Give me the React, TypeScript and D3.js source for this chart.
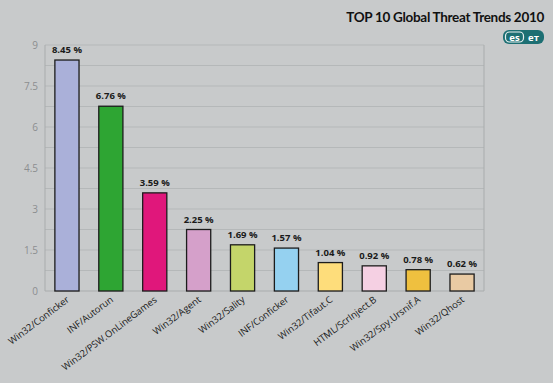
import React from "react";
import * as d3 from "d3";

const categories = [
  "Win32/Conficker",
  "INF/Autorun",
  "Win32/PSW.OnLineGames",
  "Win32/Agent",
  "Win32/Sality",
  "INF/Conficker",
  "Win32/Tifaut.C",
  "HTML/ScrInject.B",
  "Win32/Spy.Ursnif.A",
  "Win32/Qhost",
];
const values = [8.45, 6.76, 3.59, 2.25, 1.69, 1.57, 1.04, 0.92, 0.78, 0.62];
const colors = [
  "#aab0d9",
  "#2ea533",
  "#e0177b",
  "#d5a0ca",
  "#c4d56a",
  "#95d1f0",
  "#fedd7b",
  "#f5d0e3",
  "#efc03f",
  "#e9caa3",
];
const tickValues = [0, 1.5, 3, 4.5, 6, 7.5, 9];
const gridValues = [0.75, 1.5, 2.25, 3, 3.75, 4.5, 5.25, 6, 6.75, 7.5, 8.25, 9];
const title = "TOP 10 Global Threat Trends 2010";

const W = 553;
const H = 383;
const left = 45;
const right = 484;
const top = 45;
const bottom = 291;

export default function App() {
  const x = d3.scaleBand<string>().domain(categories).range([left, right]).paddingInner(0.45).paddingOuter(0.225);
  const y = d3.scaleLinear().domain([0, 9]).range([bottom, top]);
  const font = "'Open Sans', 'DejaVu Sans', sans-serif";

  return (
    <svg
      width={W}
      height={H}
      style={{ position: "absolute", left: 0, top: 0, background: "#c8cacb" }}
      fontFamily={font}
    >
      <rect x={0} y={0} width={W} height={H} fill="#c8cacb" />
      {gridValues.map((v) => (
        <line key={v} x1={left} x2={right} y1={y(v)} y2={y(v)} stroke="#b5b8b9" strokeWidth={1} />
      ))}
      <line x1={left} x2={left} y1={top} y2={bottom} stroke="#a9acad" />
      <line x1={right} x2={right} y1={top} y2={bottom} stroke="#a9acad" />
      <line x1={left} x2={right} y1={bottom} y2={bottom} stroke="#a9acad" />
      {tickValues.map((v) => (
        <text key={v} x={38} y={y(v) + 4} textAnchor="end" fontSize={10} fill="#8c8e90">
          {v}
        </text>
      ))}
      {categories.map((c, i) => (
        <g key={c}>
          <rect
            x={x(c)}
            y={y(values[i])}
            width={x.bandwidth()}
            height={bottom - y(values[i])}
            fill={colors[i]}
            stroke="#1c1c1c"
            strokeWidth={1.3}
          />
          <text
            x={(x(c) as number) + x.bandwidth() / 2}
            y={y(values[i]) - 7}
            textAnchor="middle"
            fontSize={9.5}
            fontWeight="bold"
            fill="#1a1a1a"
          >
            {values[i].toFixed(2)} %
          </text>
          <text
            transform={`translate(${(x(c) as number) + x.bandwidth() / 2 + 3},${bottom + 10}) rotate(-37)`}
            textAnchor="end"
            fontSize={9.5}
            fill="#1a1a1a"
          >
            {c}
          </text>
        </g>
      ))}
      <text
        x={544}
        y={22}
        textAnchor="end"
        fontSize={13.5}
        fontWeight="bold"
        fill="#111"
        fontFamily="Lato, 'Open Sans', sans-serif"
        letterSpacing={-0.3}
      >
        {title}
      </text>
      <g>
        <rect x={503} y={30} width={41} height={14} rx={6} fill="#1d6f73" />
        <rect x={505.5} y={32} width={18} height={10} rx={4} fill="#1d6f73" stroke="#e8f0f0" strokeWidth={1.2} />
        <text x={514.5} y={40.5} textAnchor="middle" fontSize={9.5} fontWeight="bold" fill="#ffffff">
          es
        </text>
        <text x={533.5} y={40.5} textAnchor="middle" fontSize={9.5} fontWeight="bold" fill="#ffffff">
          eт
        </text>
      </g>
    </svg>
  );
}
